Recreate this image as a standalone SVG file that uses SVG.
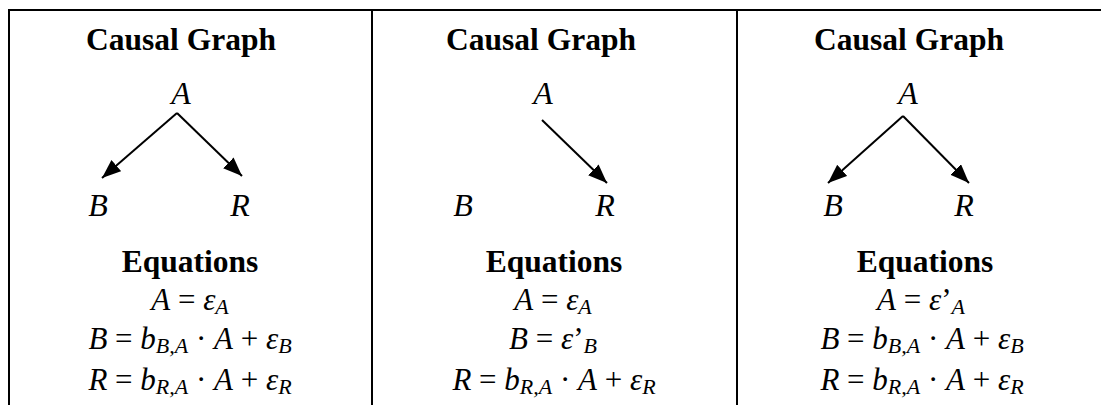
<svg xmlns="http://www.w3.org/2000/svg" width="1101" height="405" viewBox="0 0 1101 405">
<style>
.h{font-family:"Liberation Serif","Times New Roman",serif;font-weight:bold;font-size:31.5px;text-anchor:middle;fill:#000}
.v{font-family:"Liberation Serif","Times New Roman",serif;font-style:italic;font-size:32px;text-anchor:middle;fill:#000}
.e{font-family:"Liberation Serif","Times New Roman",serif;font-size:31px;text-anchor:middle;fill:#000}
.i{font-style:italic}
.s{font-style:italic;font-size:22px}
.grid{stroke:#000;stroke-width:2;fill:none}
.arr{stroke:#000;stroke-width:2;fill:none;marker-end:url(#ah)}
</style>
<defs>
<marker id="ah" markerUnits="userSpaceOnUse" markerWidth="20" markerHeight="16" refX="19" refY="7.5" orient="auto">
<path d="M0,0 L19,7.5 L0,15 Z" fill="#000"/>
</marker>
</defs>
<rect width="1101" height="405" fill="#fff"/>
<g id="table">
<line class="grid" x1="8" y1="10" x2="1101" y2="10"/>
<line class="grid" x1="9" y1="9" x2="9" y2="405"/>
<line class="grid" x1="372" y1="9" x2="372" y2="405"/>
<line class="grid" x1="737" y1="9" x2="737" y2="405"/>
</g>
<g id="connectors">
<line class="arr" x1="177" y1="113" x2="102" y2="178"/>
<line class="arr" x1="177" y1="113" x2="242" y2="176"/>
<line class="arr" x1="542" y1="120" x2="607" y2="183"/>
<line class="arr" x1="903" y1="116" x2="828" y2="183"/>
<line class="arr" x1="903" y1="116" x2="969" y2="183"/>
</g>
<g id="panel1">
<text class="h" x="181" y="50">Causal Graph</text>
<g id="p1-A"><text class="v" x="181" y="104">A</text></g>
<g id="p1-B"><text class="v" x="98" y="216">B</text></g>
<g id="p1-R"><text class="v" x="240" y="216">R</text></g>
<text class="h" x="190" y="272">Equations</text>
<text class="e" x="190" y="310"><tspan class="i">A</tspan> = <tspan class="i">ε</tspan><tspan class="s" dy="4">A</tspan></text>
<text class="e" x="190" y="349"><tspan class="i">B</tspan> = <tspan class="i">b</tspan><tspan class="s" dy="4">B,A</tspan><tspan dy="-4"> · </tspan><tspan class="i">A</tspan> + <tspan class="i">ε</tspan><tspan class="s" dy="4">B</tspan></text>
<text class="e" x="190" y="390"><tspan class="i">R</tspan> = <tspan class="i">b</tspan><tspan class="s" dy="4">R,A</tspan><tspan dy="-4"> · </tspan><tspan class="i">A</tspan> + <tspan class="i">ε</tspan><tspan class="s" dy="4">R</tspan></text>
</g>
<g id="panel2">
<text class="h" x="541" y="50">Causal Graph</text>
<g id="p2-A"><text class="v" x="543" y="104">A</text></g>
<g id="p2-B"><text class="v" x="463" y="216">B</text></g>
<g id="p2-R"><text class="v" x="605" y="216">R</text></g>
<text class="h" x="554" y="272">Equations</text>
<text class="e" x="553" y="310"><tspan class="i">A</tspan> = <tspan class="i">ε</tspan><tspan class="s" dy="4">A</tspan></text>
<text class="e" x="553" y="349"><tspan class="i">B</tspan> = <tspan class="i">ε</tspan>’<tspan class="s" dy="4">B</tspan></text>
<text class="e" x="554" y="390"><tspan class="i">R</tspan> = <tspan class="i">b</tspan><tspan class="s" dy="4">R,A</tspan><tspan dy="-4"> · </tspan><tspan class="i">A</tspan> + <tspan class="i">ε</tspan><tspan class="s" dy="4">R</tspan></text>
</g>
<g id="panel3">
<text class="h" x="909" y="50">Causal Graph</text>
<g id="p3-A"><text class="v" x="908" y="104">A</text></g>
<g id="p3-B"><text class="v" x="833" y="216">B</text></g>
<g id="p3-R"><text class="v" x="964" y="216">R</text></g>
<text class="h" x="925" y="272">Equations</text>
<text class="e" x="921" y="310"><tspan class="i">A</tspan> = <tspan class="i">ε</tspan>’<tspan class="s" dy="4">A</tspan></text>
<text class="e" x="922" y="349"><tspan class="i">B</tspan> = <tspan class="i">b</tspan><tspan class="s" dy="4">B,A</tspan><tspan dy="-4"> · </tspan><tspan class="i">A</tspan> + <tspan class="i">ε</tspan><tspan class="s" dy="4">B</tspan></text>
<text class="e" x="922" y="390"><tspan class="i">R</tspan> = <tspan class="i">b</tspan><tspan class="s" dy="4">R,A</tspan><tspan dy="-4"> · </tspan><tspan class="i">A</tspan> + <tspan class="i">ε</tspan><tspan class="s" dy="4">R</tspan></text>
</g>
</svg>
